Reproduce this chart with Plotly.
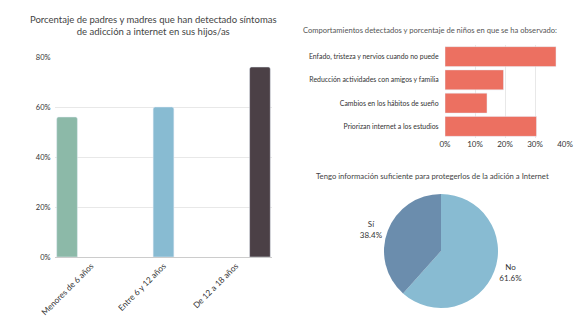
import plotly.graph_objects as go

# ---- data ----
edad_categorias = ["Menores de 6 años", "Entre 6 y 12 años", "De 12 a 18 años"]
edad_valores = [56, 60, 76]
edad_colores = ["#8CB9A8", "#88BBD2", "#4B4046"]
edad_ticks = [0, 20, 40, 60, 80]

comport_categorias = [
    "Enfado, tristeza y nervios cuando no puede",
    "Reducción actividades con amigos y familia",
    "Cambios en los hábitos de sueño",
    "Priorizan internet a los estudios",
]
comport_valores = [37, 19.5, 14, 30.5]
comport_ticks = [0, 10, 20, 30, 40]

info_labels = ["No", "Sí"]
info_valores = [61.6, 38.4]
info_colores = ["#88BBD2", "#6B8DAD"]

FONT = "Lato"
TXT = "#333333"

fig = go.Figure()

for i, (cat, val, col) in enumerate(zip(edad_categorias, edad_valores, edad_colores)):
    fig.add_trace(go.Bar(x=[cat], y=[val], marker=dict(color=col, cornerradius=2),
                         offsetgroup=str(i), alignmentgroup="edad",
                         xaxis="x", yaxis="y", showlegend=False, hoverinfo="skip"))

fig.add_trace(go.Bar(x=comport_valores, y=comport_categorias, orientation="h",
                     marker=dict(color="#EC7061"), xaxis="x2", yaxis="y2",
                     showlegend=False))

fig.add_trace(go.Pie(labels=info_labels, values=info_valores, sort=False,
                     direction="clockwise", rotation=0,
                     marker=dict(colors=info_colores),
                     textinfo="label+percent", textposition="outside",
                     textfont=dict(size=8, color=TXT, family=FONT),
                     domain=dict(x=[384/580, 498/580], y=[1-308/325, 1-194/325]),
                     showlegend=False))

fig.update_layout(
    width=580, height=325, margin=dict(l=0, r=0, t=0, b=0, autoexpand=False),
    paper_bgcolor="white", plot_bgcolor="white",
    font=dict(family=FONT, color=TXT, size=8),
    barmode="group", bargap=0, bargroupgap=0.14,
    xaxis=dict(domain=[55/580, 272/580], anchor="y", type="category",
               categoryorder="array", categoryarray=edad_categorias,
               range=[-0.5, 2.5], automargin=False,
               tickangle=-45, showline=True, linecolor="#cccccc", linewidth=1,
               showgrid=False, tickfont=dict(size=8.3, color=TXT)),
    yaxis=dict(domain=[1-257/325, 1-57/325], anchor="x", range=[0, 80],
               automargin=False,
               tickmode="array", tickvals=edad_ticks,
               ticktext=[f"{t}%" for t in edad_ticks], showgrid=True,
               gridcolor="#e8e8e8", zeroline=False, ticks="outside", ticklen=2,
               tickcolor="rgba(0,0,0,0)", tickfont=dict(size=7.5, color=TXT)),
    xaxis2=dict(domain=[445/580, 565/580], anchor="y2", range=[0, 40],
                automargin=False,
                tickmode="array", tickvals=comport_ticks,
                ticktext=[f"{t}%" for t in comport_ticks], showgrid=True,
                gridcolor="#e8e8e8", zeroline=False, tickfont=dict(size=8, color=TXT)),
    yaxis2=dict(domain=[1-138/325, 1-45/325], anchor="x2", type="category",
                categoryorder="array", categoryarray=comport_categorias[::-1],
                automargin=False,
                showgrid=False, ticks="outside", ticklen=4,
                tickcolor="rgba(0,0,0,0)", tickfont=dict(size=6.9, color=TXT)),
    annotations=[
        dict(text="Porcentaje de padres y madres que han detectado síntomas<br>de adicción a internet en sus hijos/as",
             x=153/580, y=1-26/325, xref="paper", yref="paper", showarrow=False,
             xanchor="center", yanchor="middle",
             font=dict(size=9.5, color="#444444"), align="center"),
        dict(text="Comportamientos detectados y porcentaje de niños en que se ha observado:",
             x=430/580, y=1-30/325, xref="paper", yref="paper", showarrow=False,
             xanchor="center", yanchor="middle",
             font=dict(size=7.6, color="#555555")),
        dict(text="Tengo información suficiente para protegerlos de la adición a Internet",
             x=432/580, y=1-176/325, xref="paper", yref="paper", showarrow=False,
             xanchor="center", yanchor="middle",
             font=dict(size=7.7, color="#444444")),
    ],
)

fig.write_html("out.html",
               post_script="document.body.style.margin='0';document.body.style.padding='0';document.body.style.overflow='hidden';")
